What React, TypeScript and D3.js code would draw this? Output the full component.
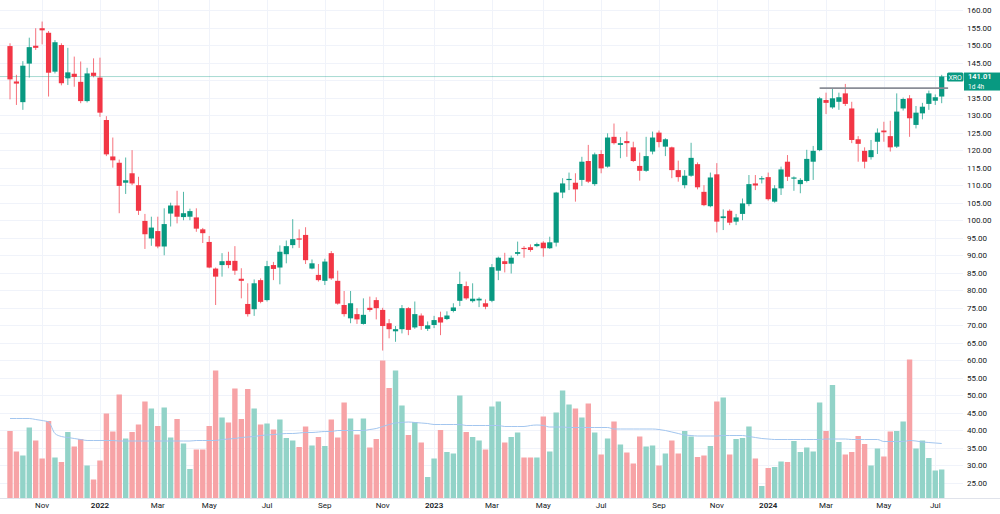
import React from "react";
import * as d3 from "d3";

// weekly XRO candles, first week starts 27 Sep 2021
const firstWeek = new Date(2021, 8, 27);

const opens = [
  149.7, 139.6, 133.7, 144.7, 149.8, 154.8, 153.5, 142.4, 150.0, 140.5,
  141.8, 139.5, 134.0, 142.1, 140.7, 128.6, 118.2, 116.4, 110.7, 113.4,
  110.0, 99.8, 94.8, 96.9, 92.5, 101.9, 104.2, 100.9, 101.0, 100.8,
  97.4, 93.8, 86.2, 87.2, 88.4, 88.4, 83.3, 76.1, 74.6, 82.9,
  77.2, 87.2, 86.5, 90.3, 92.9, 94.8, 95.8, 86.2, 84.4, 82.7,
  90.6, 82.7, 75.8, 72.0, 73.2, 70.4, 75.0, 77.2, 74.4, 70.6,
  68.3, 68.9, 74.9, 69.4, 72.8, 69.0, 70.1, 72.3, 71.8, 74.1,
  77.0, 81.2, 76.9, 77.1, 76.3, 77.0, 85.6, 88.3, 87.6, 90.4,
  92.1, 92.3, 92.6, 93.6, 92.0, 93.6, 107.9, 111.5, 110.7, 111.5,
  116.9, 110.3, 118.9, 115.3, 123.8, 121.5, 122.6, 120.8, 115.5, 114.1,
  119.6, 125.0, 121.0, 120.8, 114.3, 110.0, 112.7, 116.0, 108.1, 104.0,
  113.1, 100.6, 102.7, 99.6, 101.8, 104.6, 110.5, 111.7, 112.3, 105.3,
  109.1, 116.7, 111.9, 110.3, 111.2, 116.7, 120.0, 134.3, 132.2, 133.8,
  136.2, 131.9, 123.1, 119.8, 118.0, 122.4, 125.6, 124.0, 121.0, 131.9,
  134.8, 127.2, 130.5, 133.2, 134.1, 135.3,
];
const highs = [
  150.5, 141.5, 145.4, 152.1, 154.8, 156.7, 154.0, 151.4, 150.5, 149.2,
  146.7, 145.3, 143.5, 146.2, 146.4, 129.7, 123.6, 117.3, 117.9, 120.0,
  112.4, 101.8, 101.0, 101.0, 103.4, 105.0, 108.4, 108.1, 103.3, 103.4,
  97.8, 95.5, 86.5, 90.6, 91.0, 92.6, 86.3, 82.0, 83.1, 83.4,
  88.4, 88.1, 92.8, 94.2, 100.3, 97.4, 98.0, 88.8, 87.5, 89.0,
  91.2, 85.6, 79.8, 79.8, 74.9, 77.7, 78.2, 78.0, 75.0, 71.8,
  69.8, 75.8, 75.2, 76.8, 73.4, 71.1, 72.7, 73.9, 74.0, 76.3,
  85.3, 82.5, 82.0, 78.0, 77.4, 87.5, 89.6, 90.7, 89.9, 93.9,
  92.6, 93.1, 93.6, 94.0, 95.3, 108.1, 112.0, 113.6, 113.4, 118.1,
  121.5, 119.3, 120.0, 124.8, 127.6, 123.7, 125.3, 122.4, 119.3, 123.8,
  125.3, 125.6, 123.4, 121.0, 117.0, 114.3, 122.1, 116.5, 110.0, 113.6,
  116.3, 103.1, 103.1, 101.8, 106.2, 112.9, 112.9, 112.6, 113.6, 110.0,
  115.3, 118.6, 112.5, 112.0, 120.1, 121.2, 135.2, 136.4, 137.6, 136.4,
  138.9, 133.8, 124.0, 120.8, 122.9, 126.2, 128.1, 128.4, 136.2, 135.0,
  135.7, 132.6, 133.5, 137.0, 135.9, 141.5,
];
const lows = [
  134.5, 132.9, 131.5, 140.7, 148.6, 150.2, 135.3, 141.9, 138.5, 138.6,
  138.1, 133.4, 133.6, 140.8, 129.5, 118.3, 115.0, 102.0, 107.5, 110.0,
  101.5, 91.8, 92.7, 92.0, 90.0, 98.2, 99.1, 100.0, 100.0, 96.7,
  93.5, 86.3, 75.8, 83.9, 86.3, 84.4, 77.7, 72.5, 72.7, 76.3,
  76.8, 82.9, 81.7, 87.7, 92.0, 92.1, 87.5, 86.0, 82.5, 81.5,
  83.0, 75.9, 72.5, 70.6, 70.4, 70.2, 73.9, 71.7, 62.8, 66.3,
  65.3, 67.7, 67.2, 69.0, 68.7, 68.4, 69.2, 67.2, 71.5, 73.7,
  75.5, 77.3, 76.5, 75.2, 74.6, 76.6, 82.9, 85.1, 84.8, 89.9,
  89.3, 91.0, 92.3, 89.6, 91.8, 92.5, 106.3, 108.6, 105.3, 109.8,
  110.6, 109.8, 113.4, 115.0, 121.6, 117.7, 118.1, 116.6, 111.3, 113.8,
  118.8, 120.8, 118.3, 112.0, 111.0, 109.1, 112.4, 108.8, 104.0, 103.7,
  96.5, 97.2, 98.6, 98.6, 100.0, 104.0, 108.6, 110.5, 105.6, 105.0,
  107.2, 111.2, 108.4, 107.7, 110.8, 111.5, 119.7, 130.3, 131.8, 131.5,
  132.6, 122.0, 116.7, 114.8, 117.3, 118.9, 122.4, 119.6, 120.6, 131.3,
  123.8, 126.2, 128.8, 131.5, 132.9, 133.4,
];
const closes = [
  140.2, 139.0, 144.1, 149.4, 149.2, 154.2, 142.1, 150.8, 139.1, 142.2,
  140.9, 134.0, 141.9, 141.2, 130.7, 118.8, 117.1, 109.8, 111.4, 110.5,
  102.7, 96.0, 97.9, 92.5, 98.9, 104.2, 101.0, 102.0, 102.6, 97.6,
  96.3, 86.5, 83.9, 88.3, 87.2, 85.6, 82.7, 73.2, 82.0, 76.7,
  86.9, 86.1, 91.0, 92.6, 94.6, 94.5, 88.6, 87.7, 82.9, 88.2,
  83.4, 76.2, 73.2, 76.3, 71.7, 73.0, 74.4, 74.9, 69.8, 68.9,
  68.9, 74.9, 68.7, 73.2, 69.8, 70.0, 71.5, 70.8, 72.8, 75.1,
  81.8, 77.7, 77.6, 77.6, 75.3, 86.6, 89.3, 87.5, 89.3, 90.9,
  91.9, 91.5, 93.2, 92.0, 93.7, 107.9, 110.5, 111.8, 108.8, 116.7,
  111.0, 118.8, 114.8, 123.6, 122.0, 122.0, 122.0, 116.9, 114.1, 118.3,
  123.6, 122.3, 123.1, 114.3, 112.3, 112.7, 117.8, 109.4, 104.3, 112.2,
  99.6, 101.1, 99.3, 100.8, 104.8, 110.3, 109.9, 112.0, 106.0, 109.1,
  114.5, 112.4, 112.2, 111.5, 117.5, 119.8, 134.8, 133.5, 134.8, 135.1,
  133.2, 122.9, 121.8, 116.7, 120.0, 125.0, 125.1, 120.8, 131.0, 134.6,
  129.1, 130.7, 132.4, 136.2, 135.1, 141.01,
];
// weekly volume, millions of shares
const volumes = [
  1.34, 0.93, 0.85, 1.41, 1.15, 0.79, 1.54, 0.81, 0.72, 1.32,
  1.03, 1.18, 0.65, 0.37, 0.75, 1.69, 1.33, 2.07, 1.19, 1.32,
  1.47, 1.93, 1.79, 1.44, 1.81, 1.21, 1.58, 1.09, 0.58, 0.97,
  0.97, 1.44, 2.55, 1.61, 1.51, 2.19, 1.58, 2.18, 1.79, 1.47,
  1.49, 1.37, 1.57, 1.2, 1.15, 1.02, 1.43, 1.05, 1.22, 1.04,
  1.57, 1.21, 1.91, 1.59, 1.27, 1.59, 1.01, 1.18, 2.75, 2.2,
  2.55, 1.85, 1.26, 1.52, 1.11, 0.42, 0.79, 1.36, 0.92, 0.89,
  2.05, 1.32, 1.22, 1.15, 0.97, 1.83, 1.93, 1.11, 1.22, 1.31,
  0.81, 0.81, 0.81, 1.63, 0.93, 1.71, 2.15, 1.87, 1.79, 1.61,
  1.89, 1.31, 0.87, 1.19, 1.53, 1.07, 0.91, 0.69, 1.23, 1.03,
  1.05, 0.65, 0.89, 1.15, 0.89, 1.34, 1.23, 0.82, 0.85, 1.04,
  1.93, 2.01, 0.87, 1.18, 1.2, 1.43, 0.79, 0.24, 0.6, 0.62,
  0.73, 0.72, 1.14, 0.92, 1.01, 0.93, 1.91, 1.34, 2.26, 1.12,
  0.87, 0.92, 1.24, 1.08, 0.65, 0.99, 0.83, 1.33, 1.34, 1.53,
  2.77, 0.99, 1.15, 0.8, 0.55, 0.57,
];
// volume moving average as shown on the chart
const volumeMA = [
  1.59, 1.59, 1.59, 1.59, 1.57, 1.55, 1.52, 1.29, 1.23, 1.21,
  1.19, 1.17, 1.15, 1.15, 1.15, 1.15, 1.15, 1.14, 1.14, 1.14,
  1.14, 1.14, 1.14, 1.14, 1.14, 1.14, 1.14, 1.14, 1.14, 1.15,
  1.15, 1.15, 1.15, 1.17, 1.18, 1.19, 1.21, 1.22, 1.23, 1.25,
  1.26, 1.27, 1.28, 1.29, 1.29, 1.3, 1.31, 1.31, 1.32, 1.33,
  1.33, 1.35, 1.35, 1.35, 1.35, 1.35, 1.37, 1.39, 1.43, 1.47,
  1.5, 1.51, 1.52, 1.51, 1.5, 1.49, 1.47, 1.47, 1.47, 1.47,
  1.47, 1.45, 1.45, 1.45, 1.45, 1.45, 1.45, 1.43, 1.43, 1.43,
  1.43, 1.45, 1.46, 1.45, 1.42, 1.42, 1.42, 1.41, 1.41, 1.41,
  1.41, 1.41, 1.41, 1.41, 1.38, 1.38, 1.38, 1.38, 1.38, 1.38,
  1.38, 1.37, 1.35, 1.32, 1.29, 1.26, 1.25, 1.24, 1.24, 1.24,
  1.24, 1.25, 1.25, 1.25, 1.25, 1.23, 1.21, 1.19, 1.18, 1.17,
  1.17, 1.17, 1.17, 1.17, 1.17, 1.17, 1.17, 1.18, 1.18, 1.18,
  1.18, 1.17, 1.17, 1.17, 1.17, 1.17, 1.13, 1.13, 1.13, 1.13,
  1.15, 1.14, 1.12, 1.11, 1.1, 1.09,
];
const priceTicks = d3.range(25, 160.1, 5);
const monthNames = ["Jan", "Feb", "Mar", "Apr", "May", "Jun", "Jul", "Aug", "Sep", "Oct", "Nov", "Dec"];
const symbol = "XRO";
const lastPrice = 141.01;
const countdown = "1d 4h";
const resistance = { price: 137.7, fromIndex: 126 };

const W = 1000;
const H = 514;
const plotRight = 963;
const timeAxisY = 498;
const up = "#089981";
const down = "#f23645";
const upVol = "#92d3c8";
const downVol = "#f7a3a6";
const grid = "#f0f3fa";

export default function App() {
  const n = closes.length;
  const x = d3.scaleLinear().domain([0, n - 1]).range([10, 941.7]);
  const y = d3.scaleLinear().domain([25, 160]).range([483, 10]);
  const yVol = d3.scaleLinear().domain([0, d3.max(volumes) as number]).range([timeAxisY, timeAxisY - 138.5]);
  const step = x(1) - x(0);
  const bodyW = 5.2;
  const volW = 5.4;

  const dates = closes.map((_, i) => d3.timeDay.offset(firstWeek, 7 * i));
  const ticks = dates
    .map((d, i) => ({ d, i }))
    .filter(({ d, i }) => i > 0 && d.getMonth() !== dates[i - 1].getMonth() && d.getMonth() % 2 === 0);

  const maLine = d3
    .line<number>()
    .x((_, i) => x(i))
    .y((v) => yVol(v))
    .curve(d3.curveMonotoneX);

  const font = "-apple-system, 'Trebuchet MS', Roboto, 'Liberation Sans', sans-serif";
  const yLast = y(lastPrice);
  const boxTop = yLast - 4;
  const boxH = 18;
  // axis labels hidden behind the last-price box
  const axisLabels = priceTicks.filter((t) => y(t) + 4 < boxTop || y(t) - 4 > boxTop + boxH);

  return (
    <svg width={W} height={H} style={{ position: "absolute", left: 0, top: 0, background: "#fff" }} fontFamily={font}>
      <rect width={W} height={H} fill="#fff" />
      {/* grid */}
      {priceTicks.map((t) => (
        <line key={"h" + t} x1={0} x2={plotRight} y1={Math.round(y(t)) + 0.5} y2={Math.round(y(t)) + 0.5} stroke={grid} />
      ))}
      {ticks.map(({ i }) => (
        <line key={"v" + i} x1={Math.round(x(i)) + 0.5} x2={Math.round(x(i)) + 0.5} y1={0} y2={timeAxisY} stroke={grid} />
      ))}

      {/* volume */}
      {volumes.map((v, i) => (
        <rect
          key={"vol" + i}
          x={x(i) - volW / 2}
          y={yVol(v)}
          width={volW}
          height={timeAxisY - yVol(v)}
          fill={closes[i] >= opens[i] ? upVol : downVol}
        />
      ))}
      <path d={maLine(volumeMA) || ""} fill="none" stroke="#a3c6ef" strokeWidth={1} />

      {/* last price line */}
      <line x1={0} x2={plotRight} y1={yLast} y2={yLast} stroke={up} strokeOpacity={0.35} strokeWidth={1} />

      {/* candles */}
      {closes.map((c, i) => {
        const o = opens[i];
        const col = c >= o ? up : down;
        const top = y(Math.max(o, c));
        const bot = y(Math.min(o, c));
        return (
          <g key={"c" + i}>
            <line x1={x(i)} x2={x(i)} y1={y(highs[i])} y2={y(lows[i])} stroke={col} strokeOpacity={0.7} strokeWidth={1} />
            <rect x={x(i) - bodyW / 2} y={top} width={bodyW} height={Math.max(1.2, bot - top)} fill={col} />
          </g>
        );
      })}

      {/* horizontal ray */}
      <line
        x1={x(resistance.fromIndex)}
        x2={x(n - 1) + step}
        y1={y(resistance.price)}
        y2={y(resistance.price)}
        stroke="#8a8d96"
        strokeWidth={1.6}
      />

      {/* time axis */}
      <line x1={0} x2={W} y1={timeAxisY + 0.5} y2={timeAxisY + 0.5} stroke="#e0e3eb" />
      {ticks.map(({ d, i }) => (
        <text
          key={"t" + i}
          x={x(i)}
          y={508}
          textAnchor="middle"
          fontSize={8}
          fill="#131722"
          fontWeight={d.getMonth() === 0 ? 600 : 400}
        >
          {d.getMonth() === 0 ? d.getFullYear() : monthNames[d.getMonth()]}
        </text>
      ))}

      {/* price axis */}
      {axisLabels.map((t) => (
        <text key={"p" + t} x={967} y={y(t) + 3} fontSize={8} fill="#131722">
          {t.toFixed(2)}
        </text>
      ))}

      {/* last price labels */}
      <rect x={947} y={boxTop} width={16.5} height={9} rx={1.5} fill={up} />
      <text x={955.2} y={yLast + 3} textAnchor="middle" fontSize={7} fill="#fff">
        {symbol}
      </text>
      <rect x={964} y={boxTop} width={36} height={boxH} fill={up} />
      <text x={968} y={yLast + 2.8} fontSize={7.5} fill="#fff" fontWeight={600}>
        {lastPrice.toFixed(2)}
      </text>
      <text x={968} y={yLast + 12} fontSize={6.5} fill="#fff">
        {countdown}
      </text>
    </svg>
  );
}
